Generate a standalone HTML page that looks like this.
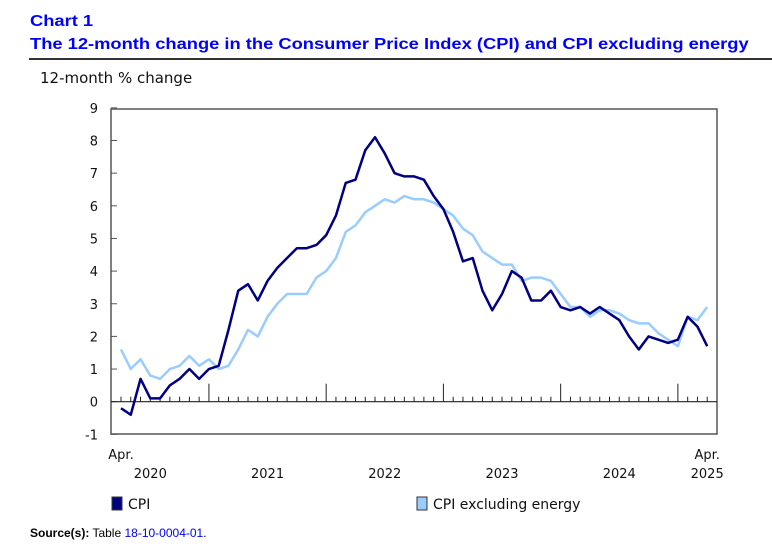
<!DOCTYPE html>
<html><head><meta charset="utf-8">
<style>
body{margin:0;background:#fff;width:772px;height:548px;overflow:hidden;font-family:"DejaVu Sans","Liberation Sans",sans-serif;}
.t{position:absolute;left:30px;color:#0000ff;font:bold 16px "Liberation Sans",Arial,sans-serif;transform:scaleX(1.145);transform-origin:left;white-space:nowrap}
</style></head><body>
<div class="t" style="top:13px">Chart 1</div>
<div class="t" style="top:36px">The 12-month change in the Consumer Price Index (CPI) and CPI excluding energy</div>
<div style="position:absolute;left:29px;top:58px;width:743px;height:2px;background:#333"></div>
<svg id="c" width="772" height="548" style="position:absolute;left:0;top:0"></svg>
<div style="position:absolute;left:30px;top:526px;font:12px 'Liberation Sans',sans-serif;white-space:nowrap"><b>Source(s):</b> Table <span style="color:#0000ff">18-10-0004-01</span>.</div>
<script>
const cpi=[-0.2,-0.4,0.7,0.1,0.1,0.5,0.7,1.0,0.7,
1.0,1.1,2.2,3.4,3.6,3.1,3.7,4.1,4.4,4.7,4.7,4.8,
5.1,5.7,6.7,6.8,7.7,8.1,7.6,7.0,6.9,6.9,6.8,6.3,
5.9,5.2,4.3,4.4,3.4,2.8,3.3,4.0,3.8,3.1,3.1,3.4,
2.9,2.8,2.9,2.7,2.9,2.7,2.5,2.0,1.6,2.0,1.9,1.8,
1.9,2.6,2.3,1.7];
const cpiExEnergy=[1.6,1.0,1.3,0.8,0.7,1.0,1.1,1.4,1.1,
1.3,1.0,1.1,1.6,2.2,2.0,2.6,3.0,3.3,3.3,3.3,3.8,
4.0,4.4,5.2,5.4,5.8,6.0,6.2,6.1,6.3,6.2,6.2,6.1,
5.9,5.7,5.3,5.1,4.6,4.4,4.2,4.2,3.7,3.8,3.8,3.7,
3.3,2.9,2.9,2.6,2.8,2.8,2.7,2.5,2.4,2.4,2.1,1.9,
1.7,2.6,2.5,2.9];
const yTicks=[-1,0,1,2,3,4,5,6,7,8,9];
const years=["2020","2021","2022","2023","2024","2025"];
const NS="http://www.w3.org/2000/svg",svg=document.getElementById('c');
const X=i=>121+i*9.77, Y=v=>401.7-v*32.65;
function mk(t,a,txt){const e=document.createElementNS(NS,t);for(const k in a)e.setAttribute(k,a[k]);if(txt!=null)e.textContent=txt;svg.appendChild(e);return e;}
const f="font-family:'DejaVu Sans','Liberation Sans',sans-serif;font-size:13px";
let e=mk('text',{x:40,y:83,style:f+";font-size:15px",fill:'#111'},'12-month % change');


e=mk('rect',{x:111,y:109,width:606,height:325,fill:'none',stroke:'#555','stroke-width':1.5});


yTicks.forEach(v=>{
 const t=mk('text',{x:98,y:Y(v)+5,'text-anchor':'end',style:f,fill:'#111'},String(v));
 
 
 const l=mk('line',{x1:111,x2:117,y1:Y(v),y2:Y(v),stroke:'#555'});
 
 
});
e=mk('line',{x1:111,x2:717,y1:Y(0),y2:Y(0),stroke:'#222','stroke-width':1.2});


for(let i=0;i<cpi.length;i++){
 const major=(i+3)%12==0;
 const l=mk('line',{x1:X(i),x2:X(i),y1:Y(0),y2:Y(0)-(major?18:5),stroke:'#222'});
 
 
}
years.forEach((y,k)=>{
 const i=Math.min(3+12*k,cpi.length-1);
 const t=mk('text',{x:X(i),y:478,'text-anchor':'middle',style:f,fill:'#111'},y);
 
 
});
[0,cpi.length-1].forEach(i=>{
 const t=mk('text',{x:X(i),y:459,'text-anchor':'middle',style:f,fill:'#111'},'Apr.');
 
 
});
function line(d,c,name){
 const p=mk('polyline',{points:d.map((v,i)=>X(i)+','+Y(v)).join(' '),fill:'none',stroke:c,'stroke-width':2.5,'stroke-linejoin':'round'});
 
 
}
line(cpiExEnergy,'#99ccff','cpi-excluding-energy-line');
line(cpi,'#000080','cpi-line');
function leg(x,c,txt,name){
 const r=mk('rect',{x:x,y:497,width:10,height:13,fill:c,stroke:'#333'});
 
 
 const t=mk('text',{x:x+16,y:509,style:f+";font-size:14px",fill:'#111'},txt);
 
 
}
leg(112,'#000080','CPI','legend-cpi');
leg(417,'#99ccff','CPI excluding energy','legend-cpi-excluding-energy');
</script>
</body></html>
